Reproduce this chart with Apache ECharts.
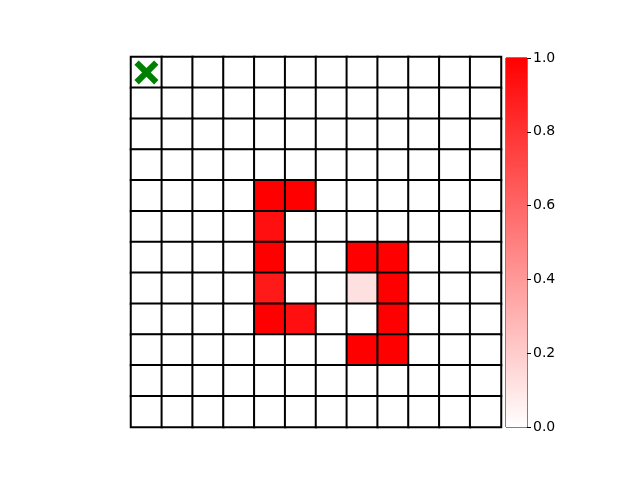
<!DOCTYPE html>
<html><head><meta charset="utf-8">
<script src="https://cdn.jsdelivr.net/npm/echarts@6/dist/echarts.min.js"></script>
<style>html,body{margin:0;padding:0;background:#fff}#c{width:640px;height:480px}</style>
</head><body><div id="c"></div>
<script>
const cols = ['0','1','2','3','4','5','6','7','8','9','10','11'];
const rows = ['0','1','2','3','4','5','6','7','8','9','10','11'];
// nonzero cells: [col, row, value]; all other cells are 0
const filledCells = [
  [4,4,1.0],[5,4,1.0],
  [4,5,0.94],
  [4,6,1.0],[7,6,1.0],[8,6,1.0],
  [4,7,0.9],[7,7,0.12],[8,7,1.0],
  [4,8,1.0],[5,8,0.94],[8,8,1.0],
  [7,9,1.0],[8,9,1.0]
];
const markerCell = [[0,0]];
const cbTicks = [0,0.2,0.4,0.6,0.8,1.0];

const heat = [];
for (let r = 0; r < rows.length; r++) for (let c = 0; c < cols.length; c++) heat.push([c, r, 0]);
filledCells.forEach(([c,r,v]) => { heat[r*cols.length + c][2] = v; });

const chart = echarts.init(document.getElementById('c'));
chart.setOption({
  animation: false,
  backgroundColor: '#fff',
  grid: [
    {left: 131, top: 57, width: 370, height: 370},
    {left: 506, top: 58, width: 21, height: 369, show: true, borderColor: '#000', borderWidth: 1, backgroundColor: 'transparent'}
  ],
  xAxis: [
    {type: 'category', data: cols, gridIndex: 0, show: false},
    {type: 'category', data: ['cb'], gridIndex: 1, show: false}
  ],
  yAxis: [
    {type: 'category', data: rows, gridIndex: 0, inverse: true, show: false},
    {type: 'value', gridIndex: 1, min: 0, max: 1, interval: 0.2, position: 'right',
     axisLine: {show: false}, splitLine: {show: false},
     axisTick: {show: true, inside: false, length: 4, lineStyle: {color: '#000'}},
     axisLabel: {color: '#000', fontSize: 14, fontFamily: 'DejaVu Sans', margin: 6,
       formatter: v => v.toFixed(1)}}
  ],
  visualMap: {show: false, min: 0, max: 1, seriesIndex: 0, dimension: 2,
    inRange: {color: ['#ffffff', '#ff0000']}},
  series: [
    {type: 'heatmap', xAxisIndex: 0, yAxisIndex: 0, data: heat,
     itemStyle: {borderColor: '#000', borderWidth: 2}, emphasis: {disabled: true}},
    {type: 'scatter', xAxisIndex: 0, yAxisIndex: 0, data: markerCell, z: 5,
     symbol: 'path://M0,1.8 L1.8,0 L5,3.2 L8.2,0 L10,1.8 L6.8,5 L10,8.2 L8.2,10 L5,6.8 L1.8,10 L0,8.2 L3.2,5 Z',
     symbolSize: 24, itemStyle: {color: '#008000', opacity: 1}},
    {type: 'bar', xAxisIndex: 1, yAxisIndex: 1, data: [cbTicks[cbTicks.length-1]], barWidth: '100%',
     itemStyle: {color: new echarts.graphic.LinearGradient(0, 0, 0, 1, [
       {offset: 0, color: '#ff0000'}, {offset: 1, color: '#ffffff'}])}}
  ]
});
</script></body></html>
